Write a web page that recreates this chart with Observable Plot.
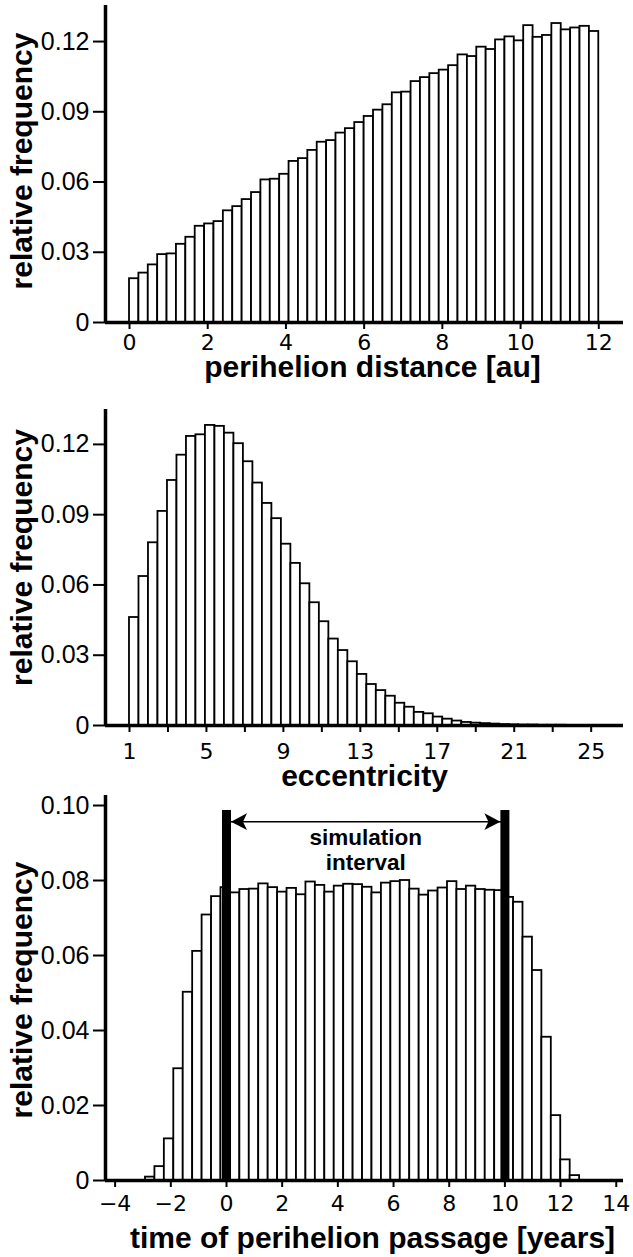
<!DOCTYPE html>
<html><head><meta charset="utf-8">
<script src="https://cdn.jsdelivr.net/npm/d3@7"></script>
<script src="https://cdn.jsdelivr.net/npm/@observablehq/plot@0.6"></script>
<style>
html,body{margin:0;padding:0;background:#fff;}
#chart svg{display:block;}
</style></head><body><div id="chart"></div>
<script>
// ---- data ----
const periStart = 0, periWidth = 0.24;
const periFreq = [0.0187,0.0211,0.0246,0.0290,0.0293,0.0334,0.0364,0.0411,0.0421,0.0431,
  0.0477,0.0495,0.0525,0.0555,0.0609,0.0612,0.0633,0.0688,0.0700,0.0735,
  0.0770,0.0777,0.0809,0.0828,0.0854,0.0880,0.0907,0.0930,0.0981,0.0984,
  0.1029,0.1046,0.1063,0.1078,0.1097,0.1143,0.1136,0.1176,0.1166,0.1207,
  0.1220,0.1203,0.1268,0.1218,0.1226,0.1277,0.1250,0.1258,0.1265,0.1243];

const eccStart = 1, eccWidth = 0.4935;
const eccFreq = [0.0461,0.0636,0.0780,0.0914,0.1046,0.1154,0.1234,0.1241,0.1281,0.1277,
  0.1248,0.1203,0.1126,0.1035,0.0948,0.0883,0.0774,0.0692,0.0605,0.0524,
  0.0443,0.0369,0.0320,0.0272,0.0218,0.0175,0.0149,0.0125,0.0095,0.0078,
  0.0056,0.0050,0.0036,0.0027,0.0019,0.0013,0.0010,0.0008,0.0006,0.0004,
  0.0003,0.0002,0.0002,0.0001,0.0001,0.0001,0,0,0,0];

const timeStart = -2.91, timeWidth = 0.339;
const timeFreq = [0.0009,0.0037,0.0111,0.0298,0.0502,0.0611,0.0708,0.0757,0.0781,0.0767,
  0.0776,0.0777,0.0791,0.0781,0.0769,0.0779,0.0762,0.0796,0.0787,0.0769,
  0.0785,0.0790,0.0789,0.0782,0.0767,0.0793,0.0797,0.0800,0.0777,0.0761,
  0.0772,0.0780,0.0797,0.0776,0.0785,0.0776,0.0774,0.0773,0.0755,0.0742,
  0.0649,0.0560,0.0382,0.0173,0.0055,0.0013];

const periTicks = [0,2,4,6,8,10,12];
const eccTicks = [1,3,5,7,9,11,13,15,17,19,21,23,25];
const eccLabeled = [1,5,9,13,17,21,25];
const timeTicks = [-4,-2,0,2,4,6,8,10,12,14];
const yTicksA = [0,0.03,0.06,0.09,0.12];
const yTicksB = [0,0.02,0.04,0.06,0.08,0.10];

const xLabels = ["perihelion distance [au]", "eccentricity", "time of perihelion passage [years]"];
const yLabel = "relative frequency";

const intervalBounds = [0, 10];
const intervalTop = 0.0987;
const arrowY = 0.0957;
const intervalLabel = "simulation\ninterval";
const intervalLabelX = 5, intervalLabelY = 0.0827;

// ---- helpers ----
function bins(start, width, freq) {
  return freq.map((v, i) => ({x1: start + i * width, x2: start + (i + 1) * width, y: v}));
}
const yFmt = d => d === 0 ? "0" : d.toFixed(2);
const signFmt = d => d < 0 ? "\u2212" + (-d) : String(d);

const arrowLeft = {draw(ctx) { ctx.moveTo(0,0); ctx.lineTo(16,-8.3); ctx.lineTo(12,0); ctx.lineTo(16,8.3); ctx.closePath(); }};
const arrowRight = {draw(ctx) { ctx.moveTo(0,0); ctx.lineTo(-16,-8.3); ctx.lineTo(-12,0); ctx.lineTo(-16,8.3); ctx.closePath(); }};

function panel(o) {
  return Plot.plot({
    width: 633, height: o.height,
    marginLeft: 105, marginRight: 10, marginTop: o.marginTop, marginBottom: o.marginBottom,
    style: {background: "white", fontFamily: "DejaVu Sans", overflow: "visible"},
    x: {domain: o.xDomain},
    y: {domain: o.yDomain},
    marks: [
      Plot.rectY(o.bars, {x1: "x1", x2: "x2", y1: 0, y2: "y", fill: "white", stroke: "black", strokeWidth: 1.8}),
      ...(o.extra || []),
      Plot.ruleY([0], {stroke: "black", strokeWidth: 3.5}),
      Plot.ruleX([o.xDomain[0]], {stroke: "black", strokeWidth: 3.5}),
      Plot.axisX({ticks: o.xTicks, tickFormat: o.xFormat, tickSize: 7, tickPadding: o.xPad,
        fontSize: 22, fontFamily: "DejaVu Sans", strokeWidth: 2, label: null}),
      Plot.axisY({ticks: o.yTicks, tickFormat: yFmt, tickSize: 12, tickPadding: 4,
        fontSize: 25, fontFamily: "Liberation Sans", strokeWidth: 2, label: null}),
      Plot.text([o.xLabel], {text: d => d, frameAnchor: "bottom", dy: o.xLabelDy, dx: o.xLabelDx || 0,
        textAnchor: "middle", lineAnchor: "bottom", fontSize: 30, fontWeight: "bold", fontFamily: "Liberation Sans", fill: "black"}),
      Plot.text([yLabel], {text: d => d, frameAnchor: "left", dx: -74, dy: o.yLabelDy || 0, rotate: -90,
        textAnchor: "middle", lineAnchor: "bottom", fontSize: 30, fontWeight: "bold", fontFamily: "Liberation Sans", fill: "black"})
    ]
  });
}

const chart = document.getElementById("chart");

chart.appendChild(panel({
  height: 395, marginTop: 5, marginBottom: 73,
  bars: bins(periStart, periWidth, periFreq),
  xDomain: [-0.614, 12.632], yDomain: [0, 0.1354],
  xTicks: periTicks, xFormat: d => String(d), xPad: 5,
  yTicks: yTicksA, xLabel: xLabels[0], xLabelDy: 54, xLabelDx: 8, yLabelDy: -3
}));

chart.appendChild(panel({
  height: 395, marginTop: 14, marginBottom: 65,
  bars: bins(eccStart, eccWidth, eccFreq),
  xDomain: [-0.247, 26.68], yDomain: [0, 0.1349],
  xTicks: eccTicks, xFormat: d => eccLabeled.includes(d) ? String(d) : "", xPad: 11,
  yTicks: yTicksA, xLabel: xLabels[1], xLabelDy: 60, yLabelDy: -10
}));

chart.appendChild(panel({
  height: 467, marginTop: 5, marginBottom: 77,
  bars: bins(timeStart, timeWidth, timeFreq),
  xDomain: [-4.346, 14.26], yDomain: [0, 0.10267],
  xTicks: timeTicks, xFormat: signFmt, xPad: 8,
  yTicks: yTicksB, xLabel: xLabels[2], xLabelDy: 67, xLabelDx: 8, yLabelDy: 2,
  extra: [
    Plot.ruleY([arrowY], {x1: () => intervalBounds[0], x2: () => intervalBounds[1], stroke: "black", strokeWidth: 1.5}),
    Plot.ruleX(intervalBounds, {y1: 0, y2: intervalTop, stroke: "black", strokeWidth: 9}),
    Plot.dot([intervalBounds[0]], {x: d => d, y: () => arrowY, symbol: arrowLeft, r: 8, fill: "black", stroke: "none", dx: 4.5}),
    Plot.dot([intervalBounds[1]], {x: d => d, y: () => arrowY, symbol: arrowRight, r: 8, fill: "black", stroke: "none", dx: -4.5}),
    Plot.text([intervalLabel], {text: d => d, x: () => intervalLabelX, y: () => intervalLabelY,
      lineAnchor: "bottom", lineHeight: 25 / 22.5, fontSize: 22.5, fontWeight: "bold", fontFamily: "Liberation Sans", fill: "black"})
  ]
}));
</script></body></html>
